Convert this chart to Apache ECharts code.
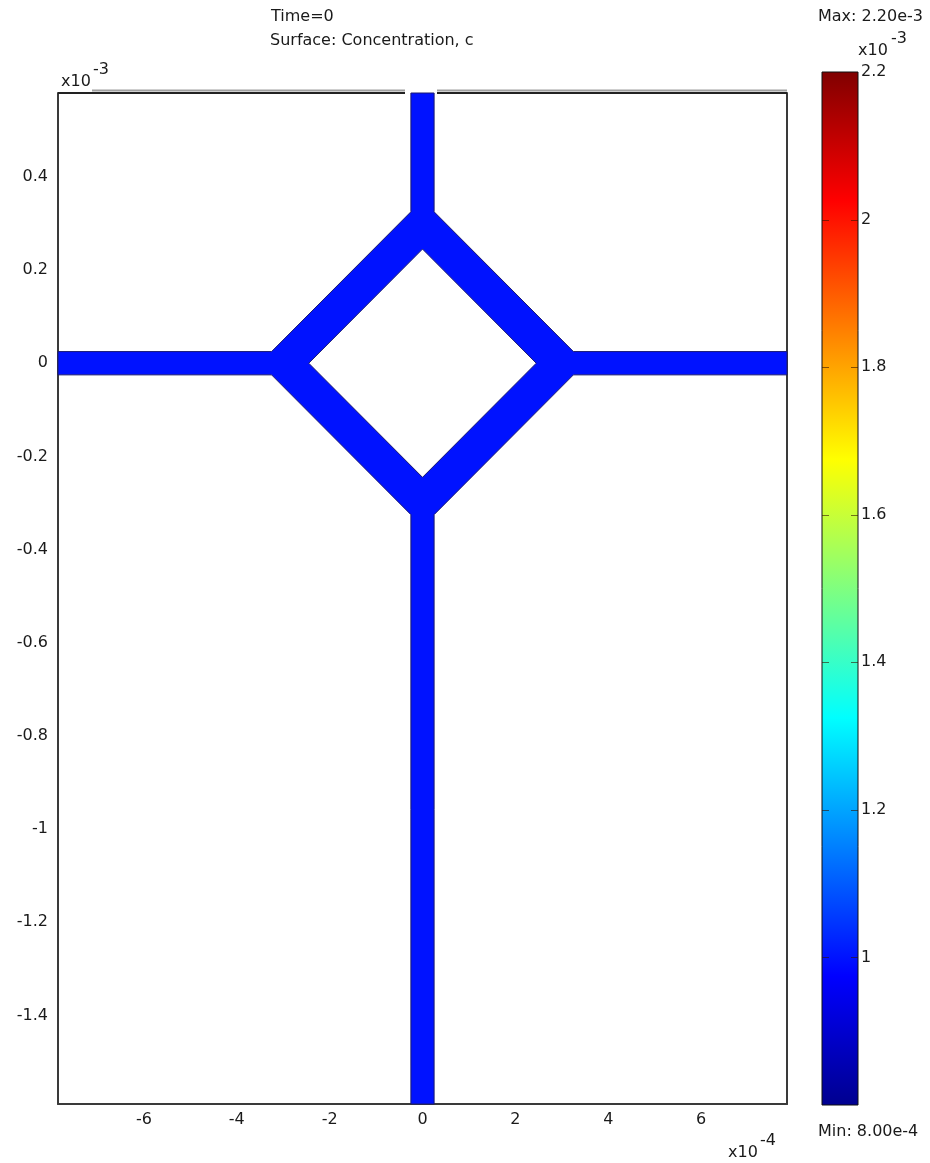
<!DOCTYPE html>
<html>
<head>
<meta charset="utf-8">
<script src="https://cdn.jsdelivr.net/npm/echarts@6/dist/echarts.min.js"></script>
<style>
html,body{margin:0;padding:0;background:#fff;}
#chart{width:930px;height:1163px;}
</style>
</head>
<body>
<div id="chart"></div>
<script>
// ---- data (units: metres) ----
var xRange = [-7.85e-4, 7.85e-4];
var yRange = [-1.59e-3, 0.58e-3];
var xTickValues = [-6e-4, -4e-4, -2e-4, 0, 2e-4, 4e-4, 6e-4];
var yTickValues = [0.4e-3, 0.2e-3, 0, -0.2e-3, -0.4e-3, -0.6e-3, -0.8e-3, -1.0e-3, -1.2e-3, -1.4e-3];
var channelHalfWidth = 0.25e-4;
var ringOuterHalfDiag = 3.5e-4;
var ringInnerHalfDiag = 2.45e-4;
var concentration = 1.0e-3;          // uniform value at Time=0
var colorMin = 0.8e-3, colorMax = 2.2e-3;
var colorbarTicks = [0.8, 1.0, 1.2, 1.4, 1.6, 1.8, 2.0, 2.2];  // x10^-3
var jetStops = [
  [0.0, '#00008f'], [0.125, '#0000ff'], [0.375, '#00ffff'],
  [0.625, '#ffff00'], [0.875, '#ff0000'], [1.0, '#800000']
];

// domain geometry (vertices in metres)
var w = channelHalfWidth, R = ringOuterHalfDiag, r = ringInnerHalfDiag;
var domainOuter = [
  [-w, yRange[1]], [-w, R - w], [w - R, w], [xRange[0], w], [xRange[0], -w],
  [w - R, -w], [-w, w - R], [-w, yRange[0]], [w, yRange[0]], [w, w - R],
  [R - w, -w], [xRange[1], -w], [xRange[1], w], [R - w, w], [w, R - w], [w, yRange[1]]
];
var domainHole = [[-r, 0], [0, r], [r, 0], [0, -r]];

// ---- helpers ----
function hex(h) { return [parseInt(h.substr(1,2),16), parseInt(h.substr(3,2),16), parseInt(h.substr(5,2),16)]; }
function jetColor(t) {
  t = Math.max(0, Math.min(1, t));
  for (var i = 1; i < jetStops.length; i++) {
    if (t <= jetStops[i][0]) {
      var a = jetStops[i - 1], b = jetStops[i];
      var f = (t - a[0]) / (b[0] - a[0]);
      var ca = hex(a[1]), cb = hex(b[1]);
      return 'rgb(' + [0,1,2].map(function(k){return Math.round(ca[k] + (cb[k]-ca[k])*f);}).join(',') + ')';
    }
  }
  return jetStops[jetStops.length-1][1];
}

var fillColor = jetColor((concentration - colorMin) / (colorMax - colorMin));
var FONT = 'DejaVu Sans';
var FS = 16;
var TXT = '#1a1a1a';
var FONTSTR = FS + 'px "DejaVu Sans"';

var shapes = [
  { points: domainOuter, fill: fillColor, stroke: '#1a1a70' },
  { points: domainHole, fill: '#ffffff', stroke: '#1a1a70' }
];

var chart = echarts.init(document.getElementById('chart'), null, { renderer: 'canvas' });

var option = {
  backgroundColor: '#ffffff',
  animation: false,
  grid: [
    { left: 58, top: 93, width: 729, height: 1011 },
    { left: 822, top: 72, width: 36, height: 1033 }
  ],
  xAxis: [
    {
      type: 'value', gridIndex: 0, min: xRange[0], max: xRange[1],
      axisLine: { show: true, onZero: false, lineStyle: { color: '#3a3a3a', width: 2 } },
      axisTick: { show: false },
      splitLine: { show: false },
      axisLabel: {
        customValues: xTickValues, margin: 8,
        fontFamily: FONT, fontSize: FS, color: TXT,
        formatter: function (v) { return String(Math.round(v * 1e4)); }
      }
    },
    { type: 'value', gridIndex: 1, min: 0, max: 1, show: false }
  ],
  yAxis: [
    {
      type: 'value', gridIndex: 0, min: yRange[0], max: yRange[1],
      axisLine: { show: true, onZero: false, lineStyle: { color: '#3a3a3a', width: 2 } },
      axisTick: { show: false },
      splitLine: { show: false },
      axisLabel: {
        customValues: yTickValues, margin: 10,
        fontFamily: FONT, fontSize: FS, color: TXT,
        formatter: function (v) { return String(+(v * 1e3).toFixed(1)); }
      }
    },
    {
      type: 'value', gridIndex: 0, position: 'right', min: yRange[0], max: yRange[1],
      axisLine: { show: true, onZero: false, lineStyle: { color: '#3a3a3a', width: 2 } },
      axisTick: { show: false }, axisLabel: { show: false }, splitLine: { show: false }
    },
    {
      type: 'value', gridIndex: 1, position: 'right', min: 0.8, max: 2.2, interval: 0.2,
      axisLine: { show: false },
      axisTick: { show: false },
      splitLine: { show: false },
      axisLabel: {
        margin: 3, fontFamily: FONT, fontSize: FS, color: TXT,
        formatter: function (v) { return Math.abs(v - 0.8) < 1e-9 ? '' : String(+v.toFixed(1)); }
      }
    }
  ],
  series: [
    {
      type: 'custom', xAxisIndex: 0, yAxisIndex: 0, silent: true,
      data: shapes.map(function (s, i) { return [i]; }),
      encode: { x: 0 },
      renderItem: function (params, api) {
        var s = shapes[params.dataIndex];
        return {
          type: 'polygon',
          shape: { points: s.points.map(function (p) { return api.coord(p); }) },
          style: { fill: s.fill, stroke: s.stroke, lineWidth: 1 }
        };
      },
      z: 1
    },
    {
      type: 'custom', xAxisIndex: 1, yAxisIndex: 2, silent: true,
      data: [[0, colorbarTicks[0], 1, colorbarTicks[colorbarTicks.length - 1]]],
      encode: { x: [0, 2], y: [1, 3] },
      renderItem: function (params, api) {
        var p0 = api.coord([api.value(0), api.value(1)]);
        var p1 = api.coord([api.value(2), api.value(3)]);
        var children = [{
          type: 'rect',
          shape: { x: p0[0], y: p1[1], width: p1[0] - p0[0], height: p0[1] - p1[1] },
          style: {
            fill: new echarts.graphic.LinearGradient(0, 1, 0, 0, jetStops.map(function (s) { return { offset: s[0], color: s[1] }; })),
            stroke: '#111', lineWidth: 1
          }
        }];
        colorbarTicks.forEach(function (t) {
          if (t === colorbarTicks[0] || t === colorbarTicks[colorbarTicks.length - 1]) return;
          var y = Math.round(api.coord([0, t])[1]) + 0.5;
          children.push({ type: 'line', shape: { x1: p0[0], y1: y, x2: p0[0] + 7, y2: y },
            style: { stroke: 'rgba(50,20,0,0.6)', lineWidth: 1 } });
          children.push({ type: 'line', shape: { x1: p1[0] - 7, y1: y, x2: p1[0], y2: y },
            style: { stroke: 'rgba(50,20,0,0.6)', lineWidth: 1 } });
        });
        return { type: 'group', children: children };
      },
      z: 1
    }
  ],
  graphic: [
    { type: 'text', left: 271, top: 9, style: { text: 'Time=0', font: FONTSTR, fill: TXT } },
    { type: 'text', left: 270, top: 33, style: { text: 'Surface: Concentration, c', font: FONTSTR, fill: TXT } },
    { type: 'text', left: 818, top: 9, style: { text: 'Max: 2.20e-3', font: FONTSTR, fill: TXT } },
    { type: 'text', left: 858, top: 43, style: { text: 'x10', font: FONTSTR, fill: TXT } },
    { type: 'text', left: 891, top: 31, style: { text: '-3', font: FONTSTR, fill: TXT } },
    { type: 'text', left: 61, top: 74, style: { text: 'x10', font: FONTSTR, fill: TXT } },
    { type: 'text', left: 93, top: 62, style: { text: '-3', font: FONTSTR, fill: TXT } },
    { type: 'text', left: 728, top: 1145, style: { text: 'x10', font: FONTSTR, fill: TXT } },
    { type: 'text', left: 760, top: 1133, style: { text: '-4', font: FONTSTR, fill: TXT } },
    { type: 'text', left: 818, top: 1124, style: { text: 'Min: 8.00e-4', font: FONTSTR, fill: TXT } },
    // top frame (interrupted where the inlet channel leaves the domain)
    { type: 'line', shape: { x1: 58, y1: 93, x2: 405, y2: 93 }, style: { stroke: '#222', lineWidth: 2 }, z: 10 },
    { type: 'line', shape: { x1: 437, y1: 93, x2: 787, y2: 93 }, style: { stroke: '#222', lineWidth: 2 }, z: 10 },
    { type: 'line', shape: { x1: 92, y1: 90.5, x2: 405, y2: 90.5 }, style: { stroke: '#a0a0a0', lineWidth: 2 }, z: 10 },
    { type: 'line', shape: { x1: 437, y1: 90.5, x2: 787, y2: 90.5 }, style: { stroke: '#a0a0a0', lineWidth: 2 }, z: 10 }
  ]
};
chart.setOption(option);
</script>
</body>
</html>
